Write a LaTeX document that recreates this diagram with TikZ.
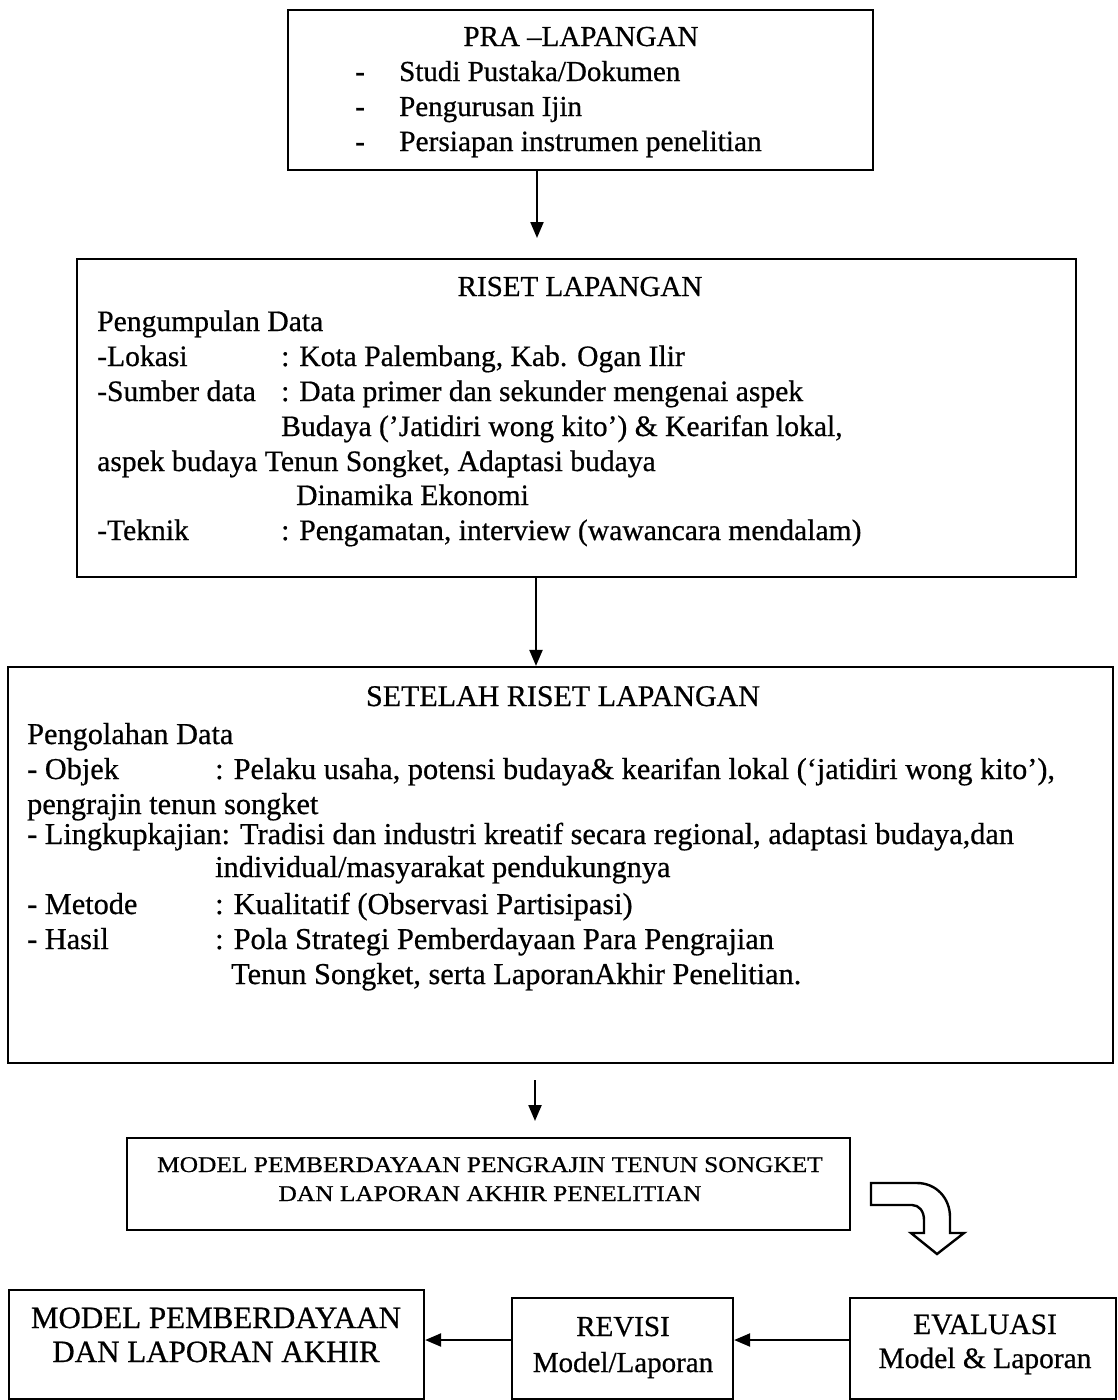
\documentclass[tikz,border=0pt]{standalone}
\usepackage{fontspec}
\usepackage{graphicx}
\setmainfont[FakeBold=0.6]{Liberation Serif}
\usetikzlibrary{arrows.meta}
\begin{document}
\begin{tikzpicture}[x=1pt,y=-1pt,
  box/.style={draw, line width=2.2pt, inner sep=0pt},
  txt/.style={anchor=base west, inner sep=0pt, font=\fontsize{29}{34}\selectfont},
  ctr/.style={anchor=base, inner sep=0pt, font=\fontsize{29}{34}\selectfont},
  rtxt/.style={txt, font=\fontsize{29.6}{34}\selectfont},
  stxt/.style={txt, font=\fontsize{30.3}{34}\selectfont},
  arr/.style={line width=2.2pt, -{Triangle[length=16pt,width=13pt]}}]
\useasboundingbox (0,0) rectangle (1118,1400);
% boxes
\node[box, minimum width=585pt, minimum height=160pt] (pra) at (580.5,90) {};
\node[box, minimum width=999pt, minimum height=318pt] (riset) at (576.5,418) {};
\node[box, minimum width=1105pt, minimum height=396pt] (setelah) at (560.5,865) {};
\node[box, minimum width=723pt, minimum height=92pt] (model) at (488.5,1184) {};
\node[box, minimum width=415pt, minimum height=109pt] (final) at (216.5,1344.5) {};
\node[box, minimum width=221pt, minimum height=101pt] (revisi) at (622.5,1348.5) {};
\node[box, minimum width=266pt, minimum height=101pt] (eval) at (983,1348.5) {};
% PRA text
\node[ctr] (t1) at (581,46) {PRA –LAPANGAN};
\node[txt] (t1a) at (355,81) {-};
\node[txt] (t1b) at (399,81) {Studi Pustaka/Dokumen};
\node[txt] (t1c) at (355,116) {-};
\node[txt] (t1d) at (399,116) {Pengurusan Ijin};
\node[txt] (t1e) at (355,151) {-};
\node[txt, font=\fontsize{29.4}{34}\selectfont] (t1f) at (399,151) {Persiapan instrumen penelitian};
% RISET text
\node[ctr] (t2) at (580,296) {RISET LAPANGAN};
\node[rtxt] (t2a) at (97,331) {Pengumpulan Data};
\node[rtxt] (t2b) at (97,366) {-Lokasi};
\node[rtxt] (t2c) at (281,366) {: Kota Palembang, Kab. Ogan Ilir};
\node[rtxt] (t2d) at (97,401) {-Sumber data};
\node[rtxt] (t2e) at (281,401) {: Data primer dan sekunder mengenai aspek};
\node[rtxt] (t2f) at (281,436) {Budaya (’Jatidiri wong kito’) \& Kearifan lokal,};
\node[rtxt] (t2g) at (97,471) {aspek budaya Tenun Songket, Adaptasi budaya};
\node[rtxt] (t2h) at (296,505) {Dinamika Ekonomi};
\node[rtxt] (t2i) at (97,540) {-Teknik};
\node[rtxt] (t2j) at (281,540) {: Pengamatan, interview (wawancara mendalam)};
% SETELAH text
\node[ctr, font=\fontsize{30}{34}\selectfont] (t3) at (563,706) {SETELAH RISET LAPANGAN};
\node[stxt] (t3a) at (27,744) {Pengolahan Data};
\node[stxt] (t3b) at (27,779) {- Objek};
\node[stxt] (t3c) at (215,779) {: Pelaku usaha, potensi budaya\& kearifan lokal (‘jatidiri wong kito’),};
\node[stxt] (t3d) at (27,814) {pengrajin tenun songket};
\node[stxt] (t3e) at (27,844) {- Lingkupkajian: Tradisi dan industri kreatif secara regional, adaptasi budaya,dan};
\node[stxt] (t3f) at (215,877) {individual/masyarakat pendukungnya};
\node[stxt] (t3g) at (27,914) {- Metode};
\node[stxt] (t3h) at (215,914) {: Kualitatif (Observasi Partisipasi)};
\node[stxt] (t3i) at (27,949) {- Hasil};
\node[stxt] (t3j) at (215,949) {: Pola Strategi Pemberdayaan Para Pengrajian};
\node[stxt] (t3k) at (231,984) {Tenun Songket, serta LaporanAkhir Penelitian.};
% MODEL text
\node[ctr, font=\fontsize{22.5}{27}\selectfont] (t4a) at (490,1172) {\scalebox{1.13}[1]{MODEL PEMBERDAYAAN PENGRAJIN TENUN SONGKET}};
\node[ctr, font=\fontsize{22.5}{27}\selectfont] (t4b) at (490,1201) {\scalebox{1.13}[1]{DAN LAPORAN AKHIR PENELITIAN}};
% bottom texts
\node[ctr, font=\fontsize{31}{35}\selectfont] (t5a) at (216,1328) {MODEL PEMBERDAYAAN};
\node[ctr, font=\fontsize{31}{35}\selectfont] (t5b) at (216,1362) {DAN LAPORAN AKHIR};
\node[ctr] (t6a) at (623,1336) {REVISI};
\node[ctr] (t6b) at (623,1372) {Model/Laporan};
\node[ctr, font=\fontsize{29.5}{34}\selectfont] (t7a) at (985,1334) {EVALUASI};
\node[ctr, font=\fontsize{29.5}{34}\selectfont] (t7b) at (985,1368) {Model \& Laporan};
% arrows
\coordinate (x1) at (537,0);
\coordinate (e1) at (537,238);
\draw[arr] (pra.south -| x1) -- (e1);
\coordinate (x2) at (536,0);
\draw[arr] (riset.south -| x2) -- (setelah.north -| x2);
\coordinate (s3) at (535,1080);
\coordinate (e3) at (535,1121);
\draw[arr] (s3) -- (e3);
\coordinate (y4) at (0,1340);
\draw[arr] (eval.west |- y4) -- (revisi.east |- y4);
\draw[arr] (revisi.west |- y4) -- (final.east |- y4);
% curved block arrow
\draw[line width=2.4pt, line join=miter]
  (871,1183) -- (917,1183) .. controls (936,1183) and (950,1198) .. (950,1217)
  -- (950,1233) -- (964,1233) -- (937,1254) -- (911,1233) -- (924,1233)
  -- (924,1220) .. controls (924,1211) and (919,1205) .. (912,1205)
  -- (871,1205) -- cycle;
\end{tikzpicture}
\end{document}
